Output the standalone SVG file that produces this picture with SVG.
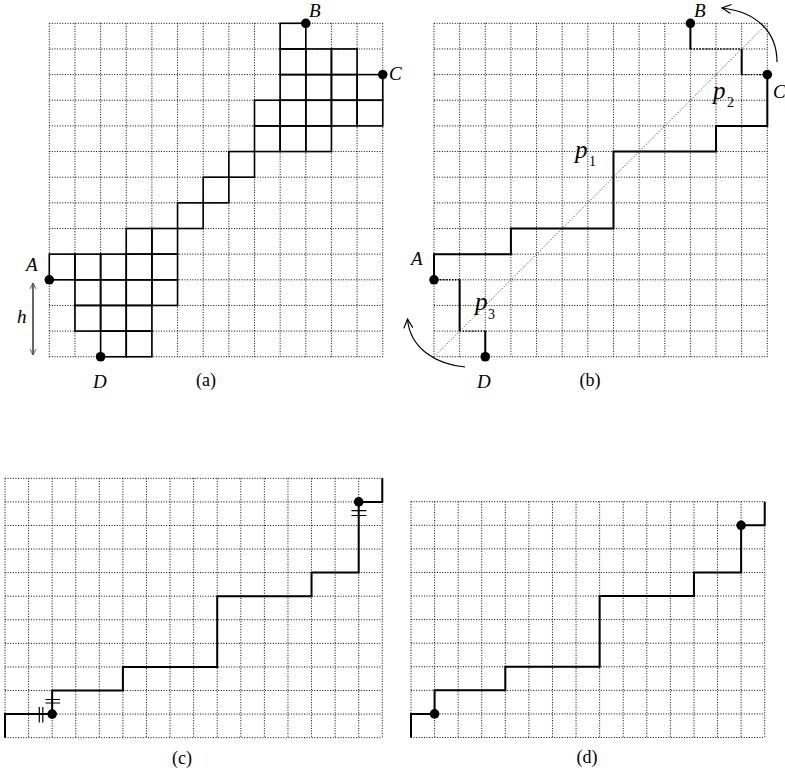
<svg xmlns="http://www.w3.org/2000/svg" width="785" height="773" viewBox="0 0 785 773">
<style>
.grid{fill:none;stroke:#000;stroke-width:1;stroke-dasharray:1 1.6}
.path{fill:none;stroke:#000;stroke-width:2;stroke-linejoin:miter}
.cell{fill:none;stroke:#000;stroke-width:1.6}
.dpath{fill:none;stroke:#000;stroke-width:1.4;stroke-dasharray:1.5 1.5}
.diag{fill:none;stroke:#222;stroke-width:1;stroke-dasharray:1 2}
.tick{fill:none;stroke:#000;stroke-width:1.2}
.lab{font-family:"Liberation Serif","Times New Roman",serif;font-style:italic;font-size:19px;fill:#000}
.pl{font-family:"Liberation Serif","Times New Roman",serif;font-style:italic;font-size:25px;fill:#000}
.cap{font-family:"Liberation Serif","Times New Roman",serif;font-size:18px;fill:#000;text-anchor:middle}
.sub{font-family:"Liberation Serif","Times New Roman",serif;font-size:14px;fill:#000}
.arr{fill:none;stroke:#000;stroke-width:1.2}
</style>
<defs>
<marker id="open" viewBox="-10 -6 12 12" markerWidth="12" markerHeight="12" refX="0" refY="0" orient="auto" markerUnits="userSpaceOnUse">
<path d="M -9 -4.5 L 0 0 L -9 4.5" fill="none" stroke="#000" stroke-width="1.2"/>
</marker>
<marker id="open2" viewBox="-10 -6 12 12" markerWidth="10" markerHeight="10" refX="0" refY="0" orient="auto-start-reverse" markerUnits="userSpaceOnUse">
<path d="M -7 -3.5 L 0 0 L -7 3.5" fill="none" stroke="#555" stroke-width="1.2"/>
</marker>
</defs>

<g id="panel-a">
<path class="grid" d="M49.3 23.3V356.75M74.95 23.3V356.75M100.6 23.3V356.75M126.25 23.3V356.75M151.9 23.3V356.75M177.55 23.3V356.75M203.2 23.3V356.75M228.85 23.3V356.75M254.5 23.3V356.75M280.15 23.3V356.75M305.8 23.3V356.75M331.45 23.3V356.75M357.1 23.3V356.75M382.75 23.3V356.75M49.3 23.3H382.75M49.3 48.95H382.75M49.3 74.6H382.75M49.3 100.25H382.75M49.3 125.9H382.75M49.3 151.55H382.75M49.3 177.2H382.75M49.3 202.85H382.75M49.3 228.5H382.75M49.3 254.15H382.75M49.3 279.8H382.75M49.3 305.45H382.75M49.3 331.1H382.75M49.3 356.75H382.75"/>
<g id="cells-a">
<rect class="cell" x="280.15" y="23.3" width="25.65" height="25.65"/>
<rect class="cell" x="280.15" y="48.95" width="25.65" height="25.65"/>
<rect class="cell" x="305.8" y="48.95" width="25.65" height="25.65"/>
<rect class="cell" x="331.45" y="48.95" width="25.65" height="25.65"/>
<rect class="cell" x="280.15" y="74.6" width="25.65" height="25.65"/>
<rect class="cell" x="305.8" y="74.6" width="25.65" height="25.65"/>
<rect class="cell" x="331.45" y="74.6" width="25.65" height="25.65"/>
<rect class="cell" x="357.1" y="74.6" width="25.65" height="25.65"/>
<rect class="cell" x="254.5" y="100.25" width="25.65" height="25.65"/>
<rect class="cell" x="280.15" y="100.25" width="25.65" height="25.65"/>
<rect class="cell" x="305.8" y="100.25" width="25.65" height="25.65"/>
<rect class="cell" x="331.45" y="100.25" width="25.65" height="25.65"/>
<rect class="cell" x="357.1" y="100.25" width="25.65" height="25.65"/>
<rect class="cell" x="254.5" y="125.9" width="25.65" height="25.65"/>
<rect class="cell" x="280.15" y="125.9" width="25.65" height="25.65"/>
<rect class="cell" x="305.8" y="125.9" width="25.65" height="25.65"/>
<rect class="cell" x="228.85" y="151.55" width="25.65" height="25.65"/>
<rect class="cell" x="203.2" y="177.2" width="25.65" height="25.65"/>
<rect class="cell" x="177.55" y="202.85" width="25.65" height="25.65"/>
<rect class="cell" x="126.25" y="228.5" width="25.65" height="25.65"/>
<rect class="cell" x="151.9" y="228.5" width="25.65" height="25.65"/>
<rect class="cell" x="49.3" y="254.15" width="25.65" height="25.65"/>
<rect class="cell" x="74.95" y="254.15" width="25.65" height="25.65"/>
<rect class="cell" x="100.6" y="254.15" width="25.65" height="25.65"/>
<rect class="cell" x="126.25" y="254.15" width="25.65" height="25.65"/>
<rect class="cell" x="151.9" y="254.15" width="25.65" height="25.65"/>
<rect class="cell" x="74.95" y="279.8" width="25.65" height="25.65"/>
<rect class="cell" x="100.6" y="279.8" width="25.65" height="25.65"/>
<rect class="cell" x="126.25" y="279.8" width="25.65" height="25.65"/>
<rect class="cell" x="151.9" y="279.8" width="25.65" height="25.65"/>
<rect class="cell" x="74.95" y="305.45" width="25.65" height="25.65"/>
<rect class="cell" x="100.6" y="305.45" width="25.65" height="25.65"/>
<rect class="cell" x="126.25" y="305.45" width="25.65" height="25.65"/>
<rect class="cell" x="100.6" y="331.1" width="25.65" height="25.65"/>
<rect class="cell" x="126.25" y="331.1" width="25.65" height="25.65"/>
</g>
<g id="dots-a">
<circle cx="49.3" cy="279.8" r="4.8"/>
<circle cx="100.6" cy="356.75" r="4.8"/>
<circle cx="305.8" cy="23.3" r="4.8"/>
<circle cx="382.75" cy="74.6" r="4.8"/>
</g>
<path class="arr" stroke="#555" d="M33 283V355" marker-start="url(#open2)" marker-end="url(#open2)"/>
<text class="lab" x="309" y="17">B</text>
<text class="lab" x="389" y="80">C</text>
<text class="lab" x="26" y="271">A</text>
<text class="lab" x="93" y="388">D</text>
<text class="lab" x="17" y="323">h</text>
<text class="cap" x="206" y="386">(a)</text>
</g>

<g id="panel-b">
<path class="grid" d="M434 23.3V356.75M459.64 23.3V356.75M485.28 23.3V356.75M510.92 23.3V356.75M536.56 23.3V356.75M562.2 23.3V356.75M587.84 23.3V356.75M613.48 23.3V356.75M639.12 23.3V356.75M664.76 23.3V356.75M690.4 23.3V356.75M716.04 23.3V356.75M741.68 23.3V356.75M767.32 23.3V356.75M434 23.3H767.32M434 48.95H767.32M434 74.6H767.32M434 100.25H767.32M434 125.9H767.32M434 151.55H767.32M434 177.2H767.32M434 202.85H767.32M434 228.5H767.32M434 254.15H767.32M434 279.8H767.32M434 305.45H767.32M434 331.1H767.32M434 356.75H767.32"/>
<path class="diag" d="M434 356.75L767.32 23.3"/>
<path class="path" d="M434 279.8V254.15H510.92V228.5H613.48V151.55H716.04V125.9H767.32V74.6"/>
<path class="path" d="M690.4 23.3V48.95M741.68 48.95V74.6M459.64 279.8V331.1M485.28 331.1V356.75"/>
<path class="dpath" d="M690.4 48.95H741.68M741.68 74.6H767.32M434 279.8H459.64M459.64 331.1H485.28"/>
<g id="dots-b">
<circle cx="690.4" cy="23.3" r="4.8"/>
<circle cx="767.32" cy="74.6" r="4.8"/>
<circle cx="434" cy="279.8" r="4.8"/>
<circle cx="485.28" cy="356.75" r="4.8"/>
</g>
<path class="arr" d="M777 62C777 32 757 12 722 8" marker-end="url(#open)"/>
<path class="arr" d="M465 367C435 364 410 348 407.5 319" marker-end="url(#open)"/>
<text class="lab" x="694" y="17">B</text>
<text class="lab" x="773" y="98">C</text>
<text class="lab" x="411" y="265">A</text>
<text class="lab" x="477" y="388">D</text>
<text class="pl" x="713" y="99">p</text>
<text class="sub" x="727" y="107">2</text>
<text class="pl" x="575" y="158">p</text>
<text class="sub" x="589" y="166">1</text>
<text class="pl" x="475" y="310">p</text>
<text class="sub" x="488" y="319">3</text>
<text class="cap" x="590" y="386">(b)</text>
</g>

<g id="panel-c">
<path class="grid" d="M5 478.3V737.68M28.58 478.3V737.68M52.16 478.3V737.68M75.74 478.3V737.68M99.32 478.3V737.68M122.9 478.3V737.68M146.48 478.3V737.68M170.06 478.3V737.68M193.64 478.3V737.68M217.22 478.3V737.68M240.8 478.3V737.68M264.38 478.3V737.68M287.96 478.3V737.68M311.54 478.3V737.68M335.12 478.3V737.68M358.7 478.3V737.68M382.28 478.3V737.68M5 478.3H382.28M5 501.88H382.28M5 525.46H382.28M5 549.04H382.28M5 572.62H382.28M5 596.2H382.28M5 619.78H382.28M5 643.36H382.28M5 666.94H382.28M5 690.52H382.28M5 714.1H382.28M5 737.68H382.28"/>
<path class="path" d="M5 737.68V714.1H52.16V690.52H122.9V666.94H217.22V596.2H311.54V572.62H358.7V501.88H382.28V478.3"/>
<path class="tick" d="M39.3 707V722.5M42.8 707V722.5M45.5 699.5H60M45.5 703H60M351.5 510.7H366.5M351.5 515.5H366.5"/>
<g id="dots-c">
<circle cx="52.16" cy="714.1" r="4.8"/>
<circle cx="358.7" cy="501.88" r="4.8"/>
</g>
<text class="cap" x="182" y="764">(c)</text>
</g>

<g id="panel-d">
<path class="grid" d="M411 501.7V737.5M434.58 501.7V737.5M458.16 501.7V737.5M481.74 501.7V737.5M505.32 501.7V737.5M528.9 501.7V737.5M552.48 501.7V737.5M576.06 501.7V737.5M599.64 501.7V737.5M623.22 501.7V737.5M646.8 501.7V737.5M670.38 501.7V737.5M693.96 501.7V737.5M717.54 501.7V737.5M741.12 501.7V737.5M764.7 501.7V737.5M411 501.7H764.7M411 525.28H764.7M411 548.86H764.7M411 572.44H764.7M411 596.02H764.7M411 619.6H764.7M411 643.18H764.7M411 666.76H764.7M411 690.34H764.7M411 713.92H764.7M411 737.5H764.7"/>
<path class="path" d="M411 737.5V713.92H434.58V690.34H505.32V666.76H599.64V596.02H693.96V572.44H741.12V525.28H764.7V501.7"/>
<g id="dots-d">
<circle cx="434.58" cy="713.92" r="4.8"/>
<circle cx="741.12" cy="525.28" r="4.8"/>
</g>
<text class="cap" x="587" y="763">(d)</text>
</g>
</svg>
